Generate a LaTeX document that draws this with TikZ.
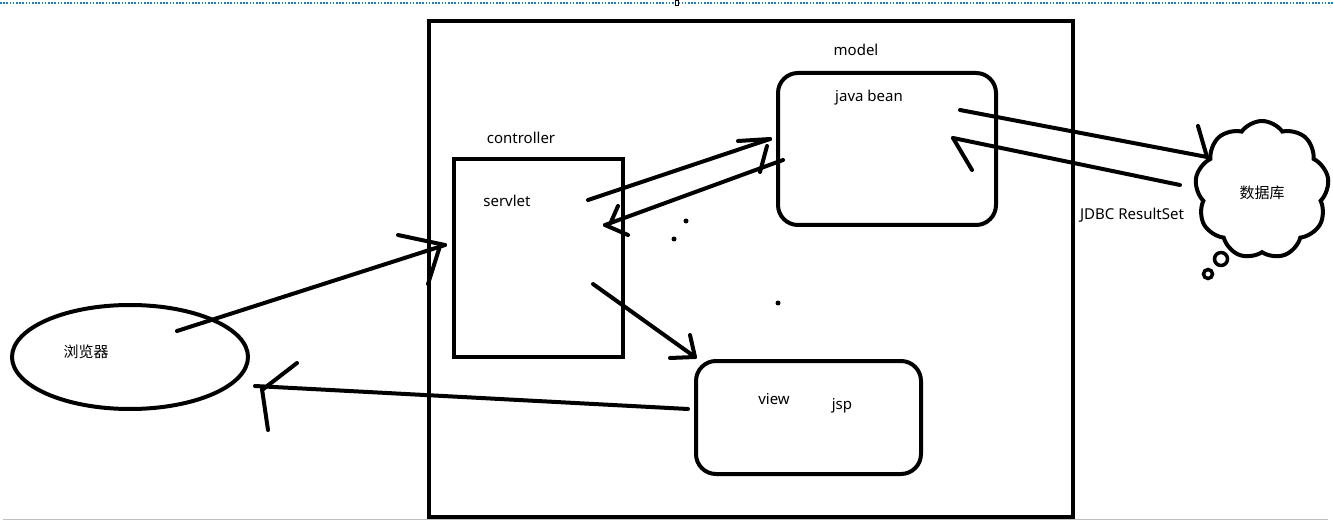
\documentclass[tikz,border=0pt]{standalone}
\usepackage{fontspec}
\setmainfont{Noto Sans}
\newfontfamily\cjk{Noto Sans CJK SC}
\usetikzlibrary{shapes.geometric,shapes.symbols}
\definecolor{selblue}{HTML}{1E7ACD}
\tikzset{
  box/.style  = {draw, line width=4pt, inner sep=0pt},
  rbox/.style = {box, rounded corners=20pt},
  lbl/.style  = {font=\fontsize{15}{18}\selectfont, inner sep=0pt},
  pen/.style  = {line width=4pt, line cap=round},
  dot/.style  = {fill, circle, inner sep=0pt, minimum size=5pt},
}
\begin{document}
\begin{tikzpicture}[x=1pt, y=-1pt]
\useasboundingbox (0,0) rectangle (1333,521);
% ---------- screen frame ----------
\draw[selblue, line width=1.6pt, dash pattern=on 1.6pt off 1.6pt] (0,3) -- (1333,3);
\draw[fill=white, line width=0.6pt] (675.5,0.5) rectangle (678.5,5.5);
\draw[black!25, line width=1pt] (3,519.5) -- (1328,519.5);
% ---------- containers ----------
\node[box, minimum width=644pt, minimum height=496pt] (app) at (751,269) {};
\node[box, minimum width=169pt, minimum height=198pt] (ctrl) at (538.5,258) {};
\node[rbox, minimum width=218pt, minimum height=152pt] (mdl) at (887,149) {};
\node[rbox, minimum width=225pt, minimum height=113pt] (vw) at (808.5,417.5) {};
\node[box, ellipse, minimum width=236pt, minimum height=104pt] (br) at (130,357) {};
\node[draw, cloud, line width=4pt, cloud puffs=9, cloud puff arc=110, aspect=1,
      minimum width=134pt, minimum height=138pt] (db) at (1262,190) {};
\node[draw, circle, line width=3.5pt, minimum size=13pt, inner sep=0pt] (bub1) at (1221,259) {};
\node[draw, circle, line width=3.5pt, minimum size=9pt, inner sep=0pt] (bub2) at (1208,274) {};
% ---------- labels ----------
\node[lbl] (mdl-t) at (856,50) {model};
\node[lbl] (bean-t) at (869,98) {java bean};
\node[lbl] (ctrl-t) at (521,138) {controller};
\node[lbl] (srv-t) at (507,201) {servlet};
\node[lbl] (br-t) at (86,352) {\cjk 浏览器};
\node[lbl] (vw-t) at (774,399) {view};
\node[lbl] (jsp-t) at (842,406) {jsp};
\node[lbl] (jdbc-t) at (1132,215) {JDBC ResultSet};
\node[lbl] (db-t) at (1262,193) {\cjk 数据库};
% ---------- connector ends ----------
\coordinate (br-out) at (177,331);   \coordinate (srv-in) at (445,245);
\coordinate (srv-out) at (588,200);  \coordinate (mdl-in) at (770,139);
\coordinate (mdl-out) at (783,160);  \coordinate (srv-back) at (605,225);
\coordinate (srv-dn) at (593,284);   \coordinate (vw-in) at (695,357);
\coordinate (vw-out) at (688,409);   \coordinate (br-in) at (255,386);
\coordinate (bean-out) at (960,110); \coordinate (db-in) at (1207,157);
\coordinate (db-out) at (1180,185);  \coordinate (bean-in) at (953,138);
% ---------- requests and replies ----------
\draw[pen] (br-out) -- (srv-in);
\draw[pen] (srv-in) -- ++(-47,-10);
\draw[pen] (srv-in) ++(-5,1) -- ++(-12,38);
\draw[pen] (srv-out) -- (mdl-in);
\draw[pen] (mdl-in) -- ++(-32,2);
\draw[pen] (mdl-in) ++(-3,7) -- ++(-7,26);
\draw[pen] (mdl-out) -- (srv-back);
\draw[pen] (srv-back) ++(13,-19) -- ++(-7,16);
\draw[pen] (srv-back) -- ++(23,10);
\draw[pen] (srv-dn) -- (vw-in);
\draw[pen] (vw-in) -- ++(-5,-22);
\draw[pen] (vw-in) -- ++(-25,1);
\draw[pen] (vw-out) -- (br-in);
\draw[pen] (br-in) ++(42,-23) -- ++(-35,27);
\draw[pen] (br-in) ++(7,3) -- ++(6,41);
\draw[pen] (bean-out) -- (db-in);
\draw[pen] (db-in) -- ++(-9,-31);
\draw[pen] (db-out) -- (bean-in);
\draw[pen] (bean-in) -- ++(19,32);
% stray dots
\node[dot] (d1) at (686,221) {};
\node[dot] (d2) at (674,239) {};
\node[dot] (d3) at (778,303) {};
\end{tikzpicture}
\end{document}
